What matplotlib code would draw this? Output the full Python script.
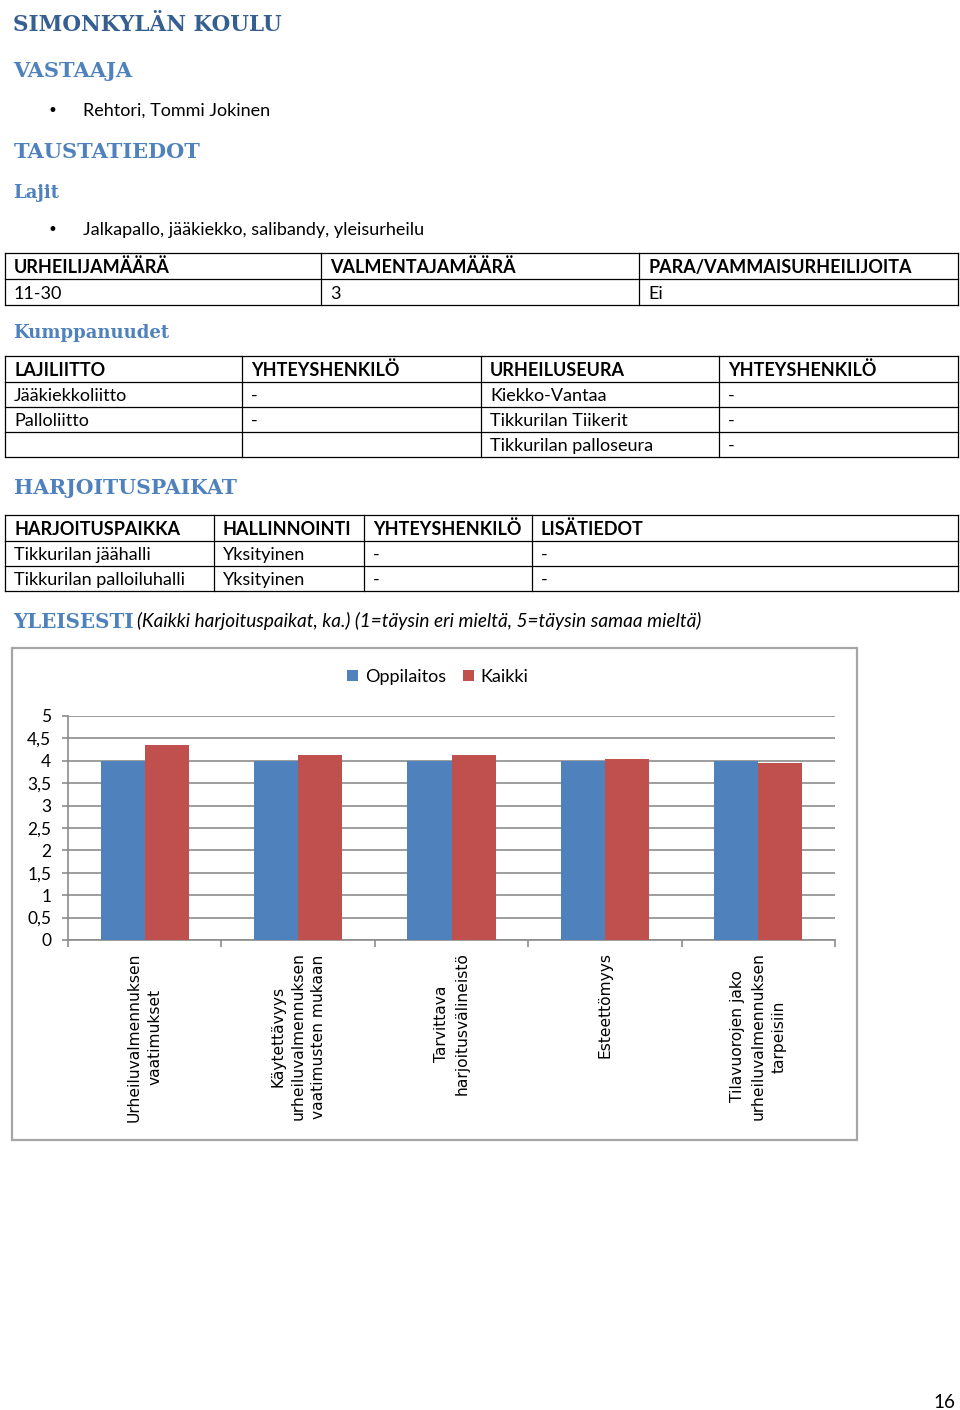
import numpy as np
import matplotlib.pyplot as plt
from matplotlib.ticker import FuncFormatter

# chart data
categories = ["Urheiluvalmennuksen\nvaatimukset",
              "Käytettävyys\nurheiluvalmennuksen\nvaatimusten mukaan",
              "Tarvittava\nharjoitusvälineistö",
              "Esteettömyys",
              "Tilavuorojen jako\nurheiluvalmennuksen\ntarpeisiin"]
oppilaitos = [4.0, 4.0, 4.0, 4.0, 4.0]
kaikki = [4.36, 4.13, 4.13, 4.05, 3.96]
y_ticks = np.arange(0, 5.01, 0.5)

# tables
table1 = [["URHEILIJAMÄÄRÄ", "VALMENTAJAMÄÄRÄ", "PARA/VAMMAISURHEILIJOITA"],
          ["11-30", "3", "Ei"]]
table2 = [["LAJILIITTO", "YHTEYSHENKILÖ", "URHEILUSEURA", "YHTEYSHENKILÖ"],
          ["Jääkiekkoliitto", "-", "Kiekko-Vantaa", "-"],
          ["Palloliitto", "-", "Tikkurilan Tiikerit", "-"],
          ["", "", "Tikkurilan palloseura", "-"]]
table3 = [["HARJOITUSPAIKKA", "HALLINNOINTI", "YHTEYSHENKILÖ", "LISÄTIEDOT"],
          ["Tikkurilan jäähalli", "Yksityinen", "-", "-"],
          ["Tikkurilan palloiluhalli", "Yksityinen", "-", "-"]]

BLUE = "#4F81BD"
RED = "#C0504D"
HEAD = "#4F81BD"
TITLE = "#365F91"
SERIF = "DejaVu Serif"
BODY = "Lato"

W, H = 960, 1410
fig = plt.figure(figsize=(W / 100, H / 100), dpi=100)
page = fig.add_axes([0, 0, 1, 1])
page.set_xlim(0, W)
page.set_ylim(H, 0)
page.axis("off")


def heading(x, y, s, size, color=HEAD):
    page.text(x, y, s, fontsize=size, fontweight="bold", family=SERIF,
              color=color, va="baseline", ha="left")


def body(x, y, s, size=13, **kw):
    page.text(x, y, s, fontsize=size, family=BODY, color="black",
              va="baseline", ha="left", **kw)


def draw_table(rows, col_x, row_y):
    for y in row_y:
        page.plot([col_x[0], col_x[-1]], [y, y], color="black", lw=0.9)
    for x in col_x:
        page.plot([x, x], [row_y[0], row_y[-1]], color="black", lw=0.9)
    for r, row in enumerate(rows):
        base = row_y[r + 1] - 6
        for c, cell in enumerate(row):
            page.text(col_x[c] + 9, base, cell, fontsize=13,
                      fontweight="bold" if r == 0 else "normal", family=BODY,
                      va="baseline", ha="left")


heading(13, 31, "SIMONKYLÄN KOULU", 15.5, TITLE)
heading(13, 77, "VASTAAJA", 15)
page.text(52, 116, "•", fontsize=12, va="baseline", ha="center")
body(83, 116, "Rehtori, Tommi Jokinen")
heading(14, 158, "TAUSTATIEDOT", 15)
heading(13, 198, "Lajit", 13)
page.text(52, 235, "•", fontsize=12, va="baseline", ha="center")
body(83, 235, "Jalkapallo, jääkiekko, salibandy, yleisurheilu")

draw_table(table1, [5, 321, 639, 958], [253, 279, 305])
heading(13, 338, "Kumppanuudet", 13)
draw_table(table2, [5, 242, 481, 719, 958], [356, 382, 407, 432, 457])
heading(14, 494, "HARJOITUSPAIKAT", 14.7)
draw_table(table3, [5, 214, 364, 532, 958], [515, 541, 566, 591])
heading(13, 628, "YLEISESTI", 14.3)
body(137, 627, "(Kaikki harjoituspaikat, ka.) (1=täysin eri mieltä, 5=täysin samaa mieltä)",
     size=13.7, style="italic")
body(933, 1408, "16", size=13.5)

# chart frame
page.add_patch(plt.Rectangle((12, 648), 845, 492, fill=False,
                             edgecolor="#A6A6A6", lw=1.6))

# chart
x0, x1, y_top, y_bot = 68, 835, 716, 940
ax = fig.add_axes([x0 / W, 1 - y_bot / H, (x1 - x0) / W, (y_bot - y_top) / H])
ax.patch.set_alpha(0)
x = np.arange(len(categories))
w = 0.287
b1 = ax.bar(x - w / 2, oppilaitos, w, color=BLUE, label="Oppilaitos", zorder=3)
b2 = ax.bar(x + w / 2, kaikki, w, color=RED, label="Kaikki", zorder=3)

ax.set_xlim(-0.5, len(categories) - 0.5)
ax.set_ylim(0, 5)
ax.set_yticks(y_ticks)
ax.yaxis.set_major_formatter(FuncFormatter(lambda v, p: f"{v:g}".replace(".", ",")))
ax.grid(axis="y", color="#8C8C8C", lw=1.2, zorder=0)
ax.set_axisbelow(True)
for s in ["top", "right"]:
    ax.spines[s].set_visible(False)
for s in ["left", "bottom"]:
    ax.spines[s].set_color("#8C8C8C")
    ax.spines[s].set_linewidth(1.2)

ax.set_xticks(x)
ax.set_xticklabels(categories, rotation=90, ha="center", va="top",
                   multialignment="center", family="DejaVu Sans", fontsize=11.2,
                   linespacing=1.45)
ax.tick_params(axis="x", which="major", length=0, pad=9)
ax.set_xticks(np.arange(-0.5, len(categories), 1), minor=True)
ax.tick_params(axis="x", which="minor", length=5, width=1.2, color="#8C8C8C")
ax.tick_params(axis="y", length=4, width=1.2, color="#8C8C8C", pad=8,
               labelsize=12.5)
for t in ax.get_yticklabels():
    t.set_family(BODY)

fig.legend(handles=[b1, b2], loc="center", bbox_to_anchor=(438 / W, 1 - 677 / H),
           ncol=2, frameon=False, handlelength=0.6, handleheight=0.6,
           handletextpad=0.4, columnspacing=0.9, prop={"family": BODY, "size": 13})

fig.savefig("out.png", dpi=100)
